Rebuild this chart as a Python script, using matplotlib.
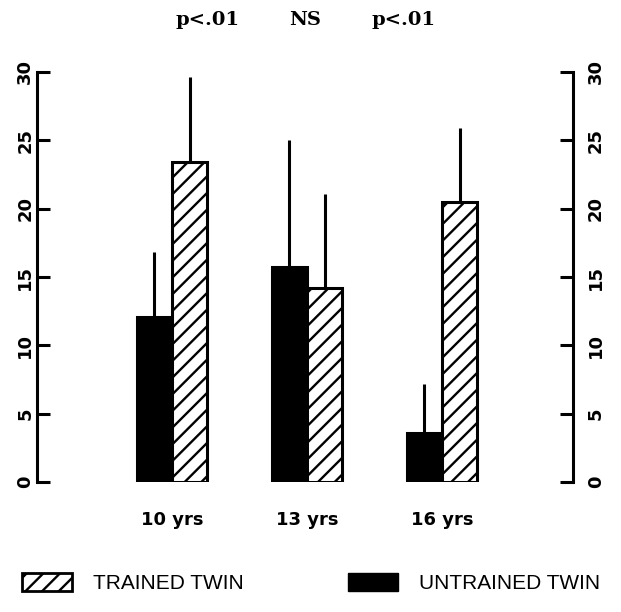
import matplotlib
matplotlib.use("Agg")
import matplotlib.pyplot as plt
from matplotlib.patches import Patch
import numpy as np

# data
ages = ["10 yrs", "13 yrs", "16 yrs"]
untrained = [12.1, 15.7, 3.6]
untrained_top = [16.8, 25.0, 7.2]
trained = [23.4, 14.2, 20.5]
trained_top = [29.6, 21.1, 25.9]
p_labels = ["p<.01", "NS", "p<.01"]
y_ticks = [0, 5, 10, 15, 20, 25, 30]

plt.rcParams['hatch.linewidth'] = 1.7

fig = plt.figure(figsize=(6.21, 6.12), dpi=100)
ax = fig.add_axes([37/621, 130/612, 536/621, 410/612])

x = np.arange(1, len(ages) + 1)
w = 0.26

ax.bar(x - w/2, untrained, w, color='black', edgecolor='black', linewidth=2.2, zorder=2)
ax.bar(x + w/2, trained, w, color='white', edgecolor='black', linewidth=2.2,
       hatch='//', zorder=2)
ax.vlines(x - w/2, untrained, untrained_top, color='black', linewidth=2.2, zorder=1)
ax.vlines(x + w/2, trained, trained_top, color='black', linewidth=2.2, zorder=1)

ax.set_xlim(0, 3.97)
ax.set_ylim(0, 30)
ax.set_xticks(x)
ax.set_xticklabels(ages, fontsize=13, fontweight='bold', family='DejaVu Sans')
ax.tick_params(axis='x', length=0, pad=21)

for s in ['top', 'bottom', 'right']:
    ax.spines[s].set_visible(False)
ax.spines['left'].set_linewidth(2.2)
ax.spines['left'].set_bounds(0, 30)
ax.set_yticks(y_ticks)
ax.set_yticklabels([str(t) for t in y_ticks], rotation=90, va='center',
                   fontsize=13, fontweight='bold')
ax.tick_params(axis='y', direction='in', length=9.5, width=2.2, pad=2)

ax2 = ax.twinx()
ax2.set_ylim(0, 30)
for s in ['top', 'bottom', 'left']:
    ax2.spines[s].set_visible(False)
ax2.spines['right'].set_linewidth(2.2)
ax2.spines['right'].set_bounds(0, 30)
ax2.set_yticks(y_ticks)
ax2.set_yticklabels([str(t) for t in y_ticks], rotation=90, va='center',
                    fontsize=13, fontweight='bold')
ax2.tick_params(axis='y', direction='in', length=9.5, width=2.2, pad=10)

# significance labels above the groups
p_x = [208/621, 305/621, 404/621]
for px, lab in zip(p_x, p_labels):
    fig.text(px, 1 - 20/612, lab, ha='center', va='center',
             fontsize=14, fontweight='bold', family='DejaVu Serif')

handles = [Patch(facecolor='white', edgecolor='black', hatch='//', linewidth=2),
           Patch(facecolor='black', edgecolor='black')]
fig.legend(handles, ["TRAINED TWIN", "UNTRAINED TWIN"], ncol=2, frameon=False,
           loc='center left', bbox_to_anchor=(22/621, 1 - 583/612),
           prop={'family': 'Liberation Sans', 'size': 15},
           handlelength=2.4, handleheight=1.0, handletextpad=1.0,
           columnspacing=5.0, borderpad=0, borderaxespad=0)

fig.savefig("out.png", dpi=100)
